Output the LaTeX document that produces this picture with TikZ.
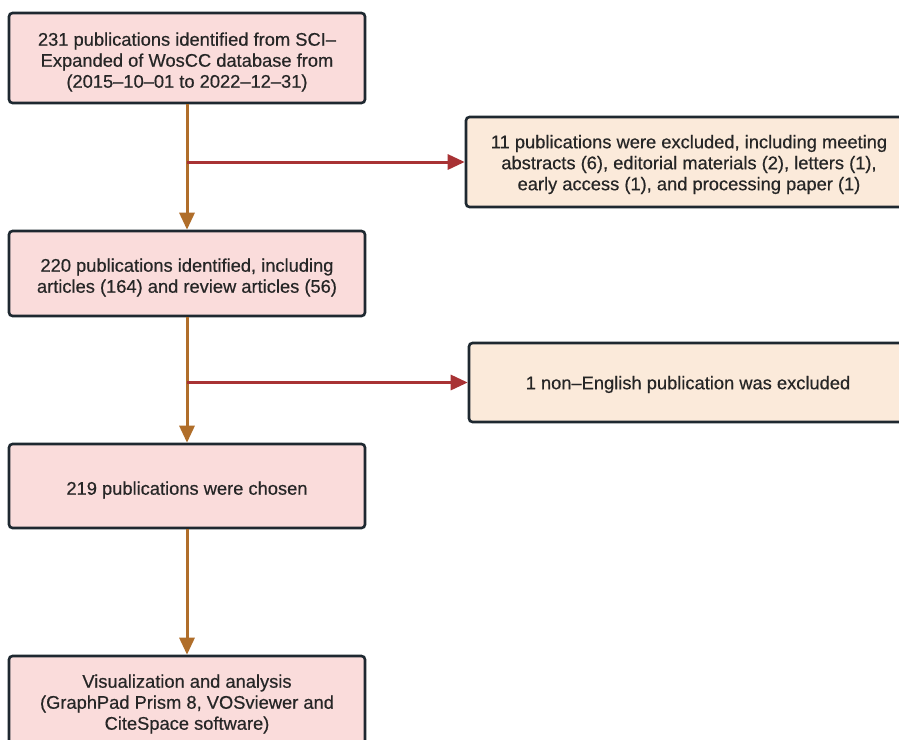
\documentclass[tikz,border=0pt]{standalone}
\usepackage{fontspec}
\setmainfont{Liberation Sans}
\newfontfamily\boxfont[FakeBold=0.5]{Liberation Sans}
\usetikzlibrary{arrows.meta}
\definecolor{pinkfill}{HTML}{FADCDB}
\definecolor{beigefill}{HTML}{FBEADA}
\definecolor{boxline}{HTML}{1E2830}
\definecolor{flowline}{HTML}{B06E2A}
\definecolor{exline}{HTML}{A83234}
\tikzset{
  box/.style={draw=boxline, line width=2.6pt, rounded corners=3.5pt, inner sep=0pt},
  boxtext/.style={align=center, font=\boxfont\fontsize{18.3}{21}\selectfont,
    text=black!85, inner sep=0pt, yshift=-4pt},
  mainbox/.style={box, fill=pinkfill, minimum width=356pt},
  exbox/.style={box, fill=beigefill},
  flow/.style={draw=flowline, line width=3pt, -{Triangle[length=17pt,width=15pt]}},
  excl/.style={draw=exline, line width=3pt, -{Triangle[length=17pt,width=15pt]}},
}
\begin{document}
\begin{tikzpicture}[x=1pt,y=-1pt]
\useasboundingbox (0,0) rectangle (899,739);
\clip (0,0) rectangle (899,739);
\fill[white] (0,0) rectangle (899,739);
\node[mainbox, minimum height=90pt, label={[boxtext]center:{231 publications identified from SCI–\\Expanded of WosCC database from\\(2015–10–01 to 2022–12–31)}}] (b1) at (187,58) {};
\node[mainbox, minimum height=85pt, label={[boxtext]center:{220 publications identified, including\\articles (164) and review articles (56)}}] (b2) at (187,273.5) {};
\node[mainbox, minimum height=84pt, label={[boxtext]center:{219 publications were chosen}}] (b3) at (187,486) {};
\node[mainbox, minimum height=88pt, label={[boxtext]center:{Visualization and analysis\\(GraphPad Prism 8, VOSviewer and\\CiteSpace software)}}] (b4) at (187,700) {};
\node[exbox, minimum width=446pt, minimum height=90pt, label={[boxtext, yshift=1.5pt]center:{11 publications were excluded, including meeting\\abstracts (6), editorial materials (2), letters (1),\\early access (1), and processing paper (1)}}] (r1) at (689,162) {};
\node[exbox, minimum width=438pt, minimum height=79pt, label={[boxtext, yshift=2pt]center:{1 non–English publication was excluded}}] (r2) at (688,382.5) {};
\coordinate (j1) at (187,162);
\coordinate (j2) at (187,382.5);
\draw[flow] (b1.south) -- (b2.north);
\draw[flow] (b2.south) -- (b3.north);
\draw[flow] (b3.south) -- (b4.north);
\draw[excl] (j1) -- (r1.west);
\draw[excl] (j2) -- (r2.west);
\end{tikzpicture}
\end{document}
